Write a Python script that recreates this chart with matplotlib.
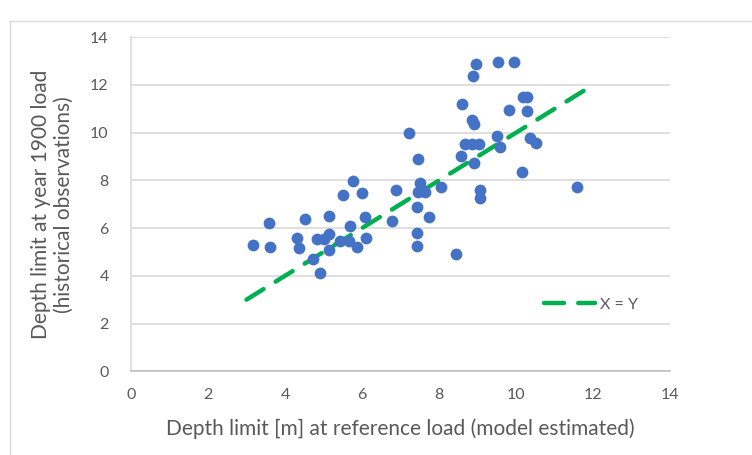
import matplotlib
matplotlib.use("Agg")
import matplotlib.pyplot as plt
from matplotlib.lines import Line2D

# Data
model_depth = [3.18, 3.58, 3.62, 4.32, 4.37, 4.53, 4.72, 4.91, 4.84, 5.00,
               5.13, 5.15, 5.15, 5.43, 5.51, 5.65, 5.69, 5.77, 5.86, 6.01,
               6.08, 6.10, 6.79, 6.88, 7.23, 7.45, 7.42, 7.44, 7.42, 7.51,
               7.46, 7.64, 7.74, 8.05, 8.44, 8.56, 8.61, 8.68, 8.85, 9.05,
               8.89, 8.96, 8.87, 8.91, 8.92, 9.06, 9.06, 9.54, 9.50, 9.58,
               9.96, 9.82, 10.19, 10.29, 10.28, 10.15, 10.36, 10.51, 11.58]
hist_depth = [5.28, 6.23, 5.19, 5.57, 5.18, 6.39, 4.69, 4.13, 5.54, 5.54,
              6.49, 5.74, 5.08, 5.47, 7.39, 5.47, 6.09, 7.99, 5.19, 7.49,
              6.48, 5.60, 6.30, 7.60, 10.0, 8.88, 6.87, 5.78, 5.26, 7.88,
              7.53, 7.53, 6.48, 7.71, 4.90, 9.02, 11.19, 9.51, 9.51, 9.51,
              12.39, 12.88, 10.53, 10.36, 8.72, 7.60, 7.28, 12.95, 9.87, 9.39,
              12.95, 10.95, 11.51, 11.51, 10.91, 8.37, 9.79, 9.58, 7.71]
xy_line = [3.0, 11.85]

x_ticks = [0, 2, 4, 6, 8, 10, 12, 14]
y_ticks = [0, 2, 4, 6, 8, 10, 12, 14]

plt.rcParams['font.family'] = ['Lato', 'DejaVu Sans']

fig = plt.figure(figsize=(7.52, 4.55), dpi=100)
ax = fig.add_axes([131 / 752, 83.8 / 455, 539 / 752, 333.9 / 455])

# outer chart border (light)
fig.add_artist(Line2D([10 / 752, 1.0], [1 - 21 / 455, 1 - 21 / 455],
                      transform=fig.transFigure, color='#d9d9d9', lw=1))
fig.add_artist(Line2D([10 / 752, 10 / 752], [0, 1 - 21 / 455],
                      transform=fig.transFigure, color='#d9d9d9', lw=1))

ax.scatter(model_depth, hist_depth, s=72, color='#4472C4', zorder=3,
           linewidths=0)
ax.plot(xy_line, xy_line, color='#00B050', lw=3.2, linestyle=(0, (4.5, 3.2)),
        solid_capstyle='round', dash_capstyle='round', zorder=2, label='X = Y')

ax.set_xlim(0, 14)
ax.set_ylim(0, 14)
ax.set_xticks(x_ticks)
ax.set_yticks(y_ticks)
ax.grid(axis='y', color='#d9d9d9', lw=1.2)
ax.set_axisbelow(True)
for s in ['top', 'right']:
    ax.spines[s].set_visible(False)
ax.spines['left'].set_color('#d9d9d9')
ax.spines['left'].set_linewidth(1.2)
ax.spines['bottom'].set_color('#bfbfbf')
ax.spines['bottom'].set_linewidth(1.2)
ax.tick_params(length=0, colors='#595959', labelsize=11.5)
ax.tick_params(axis='x', pad=12)
ax.tick_params(axis='y', pad=16)

ax.set_xlabel('Depth limit [m] at reference load (model estimated)',
              fontsize=15, color='#595959', labelpad=12)
ax.set_ylabel('Depth limit at year 1900 load\n(historical observations)',
              fontsize=15, color='#595959', labelpad=12, linespacing=1.15)

leg = ax.legend(loc='center left', bbox_to_anchor=(0.74, 0.20), frameon=False,
                fontsize=11.5, handlelength=3.2, handletextpad=0.3,
                labelcolor='#595959')

fig.savefig('out.png', dpi=100, facecolor='white')
